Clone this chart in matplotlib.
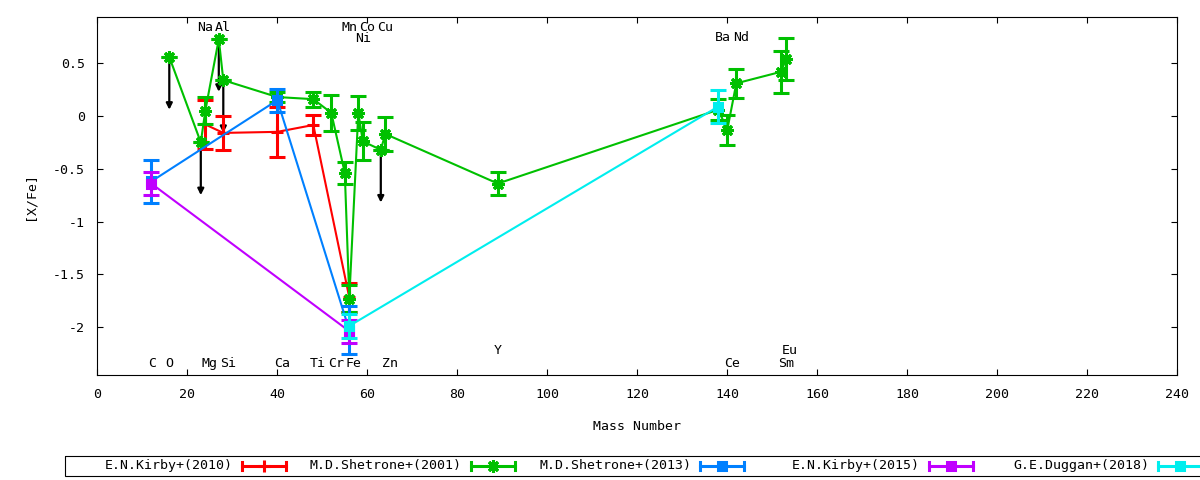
import numpy as np
import matplotlib
matplotlib.use("Agg")
import matplotlib.pyplot as plt
from matplotlib.patches import Rectangle

plt.rcParams['font.family'] = ['DejaVu Sans Mono', 'DejaVu Sans']
plt.rcParams['font.size'] = 9.5
plt.rcParams['axes.unicode_minus'] = False

# ---- data ----
kirby10_mass = [24, 28, 40, 48, 56]
kirby10_val = [-0.08, -0.16, -0.15, -0.085, -1.72]
kirby10_err = [0.23, 0.16, 0.24, 0.095, 0.14]

shetrone01_mass = [16, 23, 24, 27, 28, 40, 48, 52, 55, 56, 58, 59, 63, 64, 89, 138, 140, 142, 152, 153]
shetrone01_val = [0.56, -0.25, 0.05, 0.73, 0.34, 0.18, 0.16, 0.03, -0.54, -1.73,
                  0.03, -0.24, -0.32, -0.17, -0.64, 0.06, -0.13, 0.31, 0.42, 0.54]
shetrone01_err = [0, 0, 0.13, 0, 0, 0.05, 0.07, 0.17, 0.10, 0.13,
                  0.16, 0.18, 0, 0.16, 0.105, 0.10, 0.14, 0.14, 0.20, 0.20]
shetrone01_ulim = [True, True, False, True, True, False, False, False, False, False,
                   False, False, True, False, False, False, False, False, False, False]

shetrone13_mass = [12, 40, 56]
shetrone13_val = [-0.62, 0.15, -2.03]
shetrone13_err = [0.20, 0.11, 0.23]

kirby15_mass = [12, 56]
kirby15_val = [-0.64, -2.04]
kirby15_err = [0.11, 0.11]

duggan18_mass = [56, 138]
duggan18_val = [-1.99, 0.09]
duggan18_err = [0.11, 0.16]

# element names and their mass numbers, top and bottom rows
top_names = ["Na", "Al", "Mn", "Co", "Cu", "Ni", "Ba", "Nd"]
top_mass = [23, 27, 55, 59, 63, 58, 138, 142]
top_level = [0.84, 0.84, 0.84, 0.84, 0.84, 0.735, 0.745, 0.745]

bottom_names = ["C", "O", "Mg", "Si", "Ca", "Ti", "Cr", "Fe", "Zn", "Y", "Ce", "Sm", "Eu"]
bottom_mass = [12, 16, 24, 28, 40, 48, 52, 56, 64, 89, 140, 152, 153]
bottom_level = [-2.345, -2.345, -2.345, -2.345, -2.345, -2.345, -2.345, -2.345, -2.345,
                -2.22, -2.345, -2.345, -2.22]

series = [
    ("E.N.Kirby+(2010)", kirby10_mass, kirby10_val, kirby10_err, "#ff0000", "+"),
    ("M.D.Shetrone+(2001)", shetrone01_mass, shetrone01_val, shetrone01_err, "#00c000", (8, 2, 0)),
    ("M.D.Shetrone+(2013)", shetrone13_mass, shetrone13_val, shetrone13_err, "#0080ff", "s"),
    ("E.N.Kirby+(2015)", kirby15_mass, kirby15_val, kirby15_err, "#c000ff", "s"),
    ("G.E.Duggan+(2018)", duggan18_mass, duggan18_val, duggan18_err, "#00eeee", "s"),
]


def marker_size(mk):
    if mk == "s":
        return 6
    if mk == "+":
        return 8
    return 9


fig = plt.figure(figsize=(12, 4.8), dpi=100)
ax = fig.add_axes([97.3 / 1200, 105 / 480, 1080 / 1200, 357.7 / 480])

for i, (name, m, v, e, c, mk) in enumerate(series):
    ax.errorbar(m, v, yerr=e, color=c, lw=1.5, elinewidth=2.2, capsize=5.5, capthick=2.2,
                marker=mk, ms=marker_size(mk), mew=2.2, zorder=3 + i)

# upper limit arrows for Shetrone (2001)
for m, v, lim in zip(shetrone01_mass, shetrone01_val, shetrone01_ulim):
    if lim:
        ax.annotate("", xy=(m, v - 0.5), xytext=(m, v),
                    arrowprops=dict(arrowstyle="-|>", color="black", lw=1.6,
                                    mutation_scale=9, shrinkA=0, shrinkB=0),
                    zorder=2)

for n, m, y in zip(top_names, top_mass, top_level):
    ax.text(m - 0.8, y, n, ha="left", va="center")
for n, m, y in zip(bottom_names, bottom_mass, bottom_level):
    ax.text(m - 0.8, y, n, ha="left", va="center")

ax.set_xlim(0, 240)
ax.set_ylim(-2.455, 0.936)
ax.set_xticks(np.arange(0, 241, 20))
ax.set_yticks([0.5, 0, -0.5, -1, -1.5, -2])
ax.set_yticklabels(["0.5", "0", "-0.5", "-1", "-1.5", "-2"])
ax.tick_params(direction="in", top=True, right=True, length=4, width=0.8, pad=9)
for sp in ax.spines.values():
    sp.set_linewidth(0.8)
ax.set_xlabel("Mass Number", labelpad=14)
ax.set_ylabel("[X/Fe]", labelpad=12)

# legend drawn in pixel coordinates like gnuplot's horizontal key
lax = fig.add_axes([0, 0, 1, 1])
lax.set_xlim(0, 1200)
lax.set_ylim(480, 0)
lax.axis("off")
lax.add_patch(Rectangle((64.5, 456), 1200, 20, fill=False, lw=0.8, color="black"))
for i, (name, m, v, e, c, mk) in enumerate(series):
    x_text = 233 + 229 * i
    x0, x1 = x_text + 9, x_text + 53
    lax.text(x_text, 466, name, ha="right", va="center")
    lax.plot([x0, x1], [466, 466], color=c, lw=2.2)
    lax.plot([x0, x0], [462, 470], color=c, lw=2.2)
    lax.plot([x1, x1], [462, 470], color=c, lw=2.2)
    lax.plot([(x0 + x1) / 2], [466], marker=mk, color=c, ms=marker_size(mk), mew=2.2)

fig.savefig("out.png", dpi=100)
